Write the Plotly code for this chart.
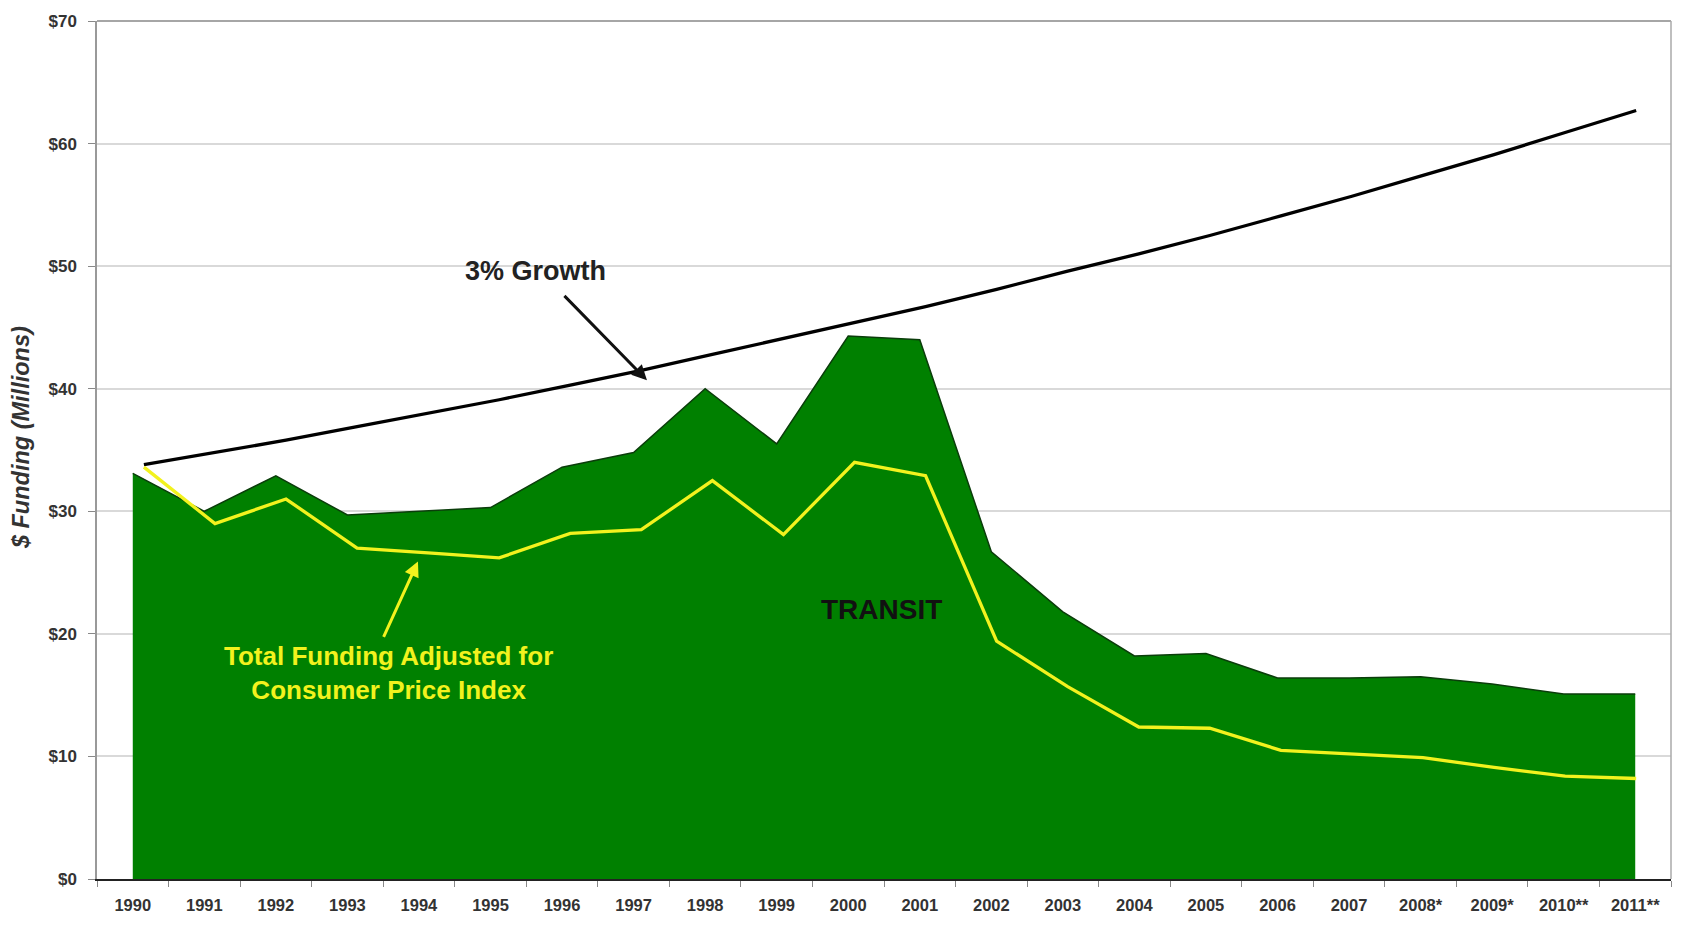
import plotly.graph_objects as go

years = ["1990", "1991", "1992", "1993", "1994", "1995", "1996", "1997", "1998", "1999",
         "2000", "2001", "2002", "2003", "2004", "2005", "2006", "2007", "2008*", "2009*",
         "2010**", "2011**"]
transit = [33.1, 30.0, 32.9, 29.7, 30.0, 30.3, 33.6, 34.8, 40.0, 35.5,
           44.3, 44.0, 26.7, 21.8, 18.2, 18.4, 16.4, 16.4, 16.5, 15.9, 15.1, 15.1]
cpi_adjusted = [33.6, 29.0, 31.0, 27.0, 26.6, 26.2, 28.2, 28.5, 32.5, 28.1,
                34.0, 32.9, 19.4, 15.7, 12.4, 12.3, 10.5, 10.2, 9.9, 9.1, 8.4, 8.2]
growth_3pct = [33.8, 34.8, 35.8, 36.9, 38.0, 39.1, 40.3, 41.5, 42.8, 44.1,
               45.4, 46.7, 48.1, 49.6, 51.0, 52.5, 54.1, 55.7, 57.4, 59.1, 60.9, 62.7]
y_ticks = [0, 10, 20, 30, 40, 50, 60, 70]

FONT = "Arial, Liberation Sans, sans-serif"
idx = list(range(len(years)))

fig = go.Figure()
fig.add_trace(go.Scatter(
    x=years, y=transit, mode="lines", fill="tozeroy",
    fillcolor="#008000", line=dict(color="#0b3d0b", width=1.5),
    showlegend=False, hoverinfo="skip"))
fig.add_trace(go.Scatter(
    x=idx, y=growth_3pct, mode="lines", xaxis="x2",
    line=dict(color="#000000", width=3.3), showlegend=False))
fig.add_trace(go.Scatter(
    x=idx, y=cpi_adjusted, mode="lines", xaxis="x2",
    line=dict(color="#F2F21E", width=3.3), showlegend=False))

fig.update_layout(
    width=1686, height=942,
    margin=dict(l=97, r=15, t=17, b=63),
    paper_bgcolor="white", plot_bgcolor="white",
    font=dict(family=FONT),
    xaxis=dict(
        type="category", range=[-0.5, len(years) - 0.5],
        tickmode="array", tickvals=years, ticktext=[f"<b>{y}</b>" for y in years],
        tickson="boundaries", ticks="outside", ticklen=6, tickcolor="#888",
        tickfont=dict(size=16.5, color="#333"), ticklabelstandoff=10,
        showline=True, linecolor="#222", linewidth=1.5,
        showgrid=False, zeroline=False),
    xaxis2=dict(overlaying="x", range=[-0.66, 21.49], visible=False,
                showgrid=False, zeroline=False),
    yaxis=dict(
        range=[0, 70], tickmode="array", tickvals=y_ticks,
        ticktext=[f"<b>${v}</b>" for v in y_ticks],
        ticks="outside", ticklen=7, tickcolor="#888",
        tickfont=dict(size=17, color="#333"), ticklabelstandoff=8,
        showline=True, linecolor="#999", linewidth=1.5,
        showgrid=True, gridcolor="#d9d9d9", gridwidth=1.5, zeroline=False),
    shapes=[dict(type="line", xref="paper", yref="paper", x0=0, x1=1, y0=1, y1=1,
                 line=dict(color="#888", width=1.5)),
            dict(type="line", xref="paper", yref="paper", x0=1, x1=1, y0=0, y1=1,
                 line=dict(color="#aaa", width=1.5))],
    annotations=[
        dict(text="<b><i>$ Funding (Millions)</i></b>", xref="paper", yref="paper",
             x=-0.0483, y=0.515, textangle=-90, xanchor="center", yanchor="middle",
             showarrow=False, font=dict(size=23.5, color="#333")),
        dict(text="<b>3% Growth</b>", xref="paper", yref="paper", x=0.2783, y=0.7088,
             xanchor="center", yanchor="middle",
             showarrow=False, font=dict(size=27, color="#222")),
        dict(text="", xref="paper", yref="paper", x=0.3494, y=0.5812,
             ax=-84, ay=-86, showarrow=True, arrowhead=2, arrowsize=1,
             arrowwidth=3, arrowcolor="#111"),
        dict(text="", xref="paper", yref="paper", x=0.2039, y=0.3701,
             ax=-35, ay=77, showarrow=True, arrowhead=2, arrowsize=1,
             arrowwidth=3, arrowcolor="#F2F21E"),
        dict(text="<b>Total Funding Adjusted for<br>Consumer Price Index</b>",
             xref="paper", yref="paper", x=0.1849, y=0.2401, showarrow=False,
             xanchor="center", yanchor="middle",
             font=dict(size=26, color="#F2F21E")),
        dict(text="<b>TRANSIT</b>", xref="paper", yref="paper", x=0.4987, y=0.3144,
             xanchor="center", yanchor="middle",
             showarrow=False, font=dict(size=28, color="#111")),
    ],
)

fig.write_html("out.html", config={"displayModeBar": False},
               post_script="document.body.style.margin='0px';")
